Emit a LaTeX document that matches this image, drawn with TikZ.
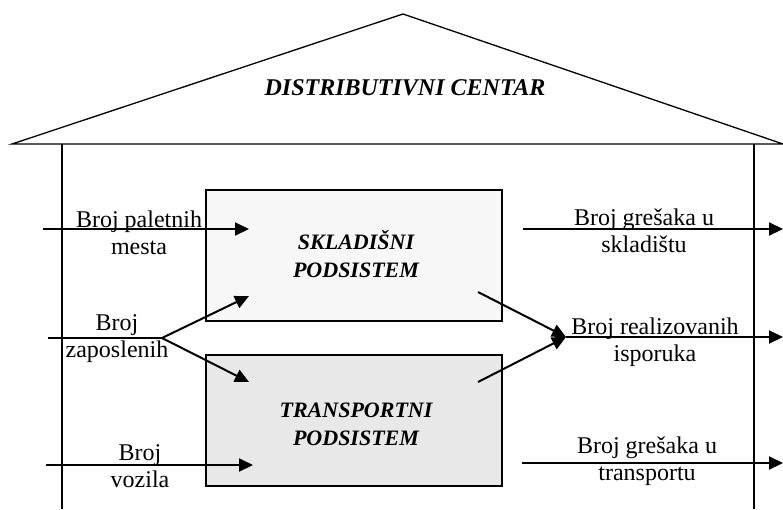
\documentclass[tikz,border=0pt]{standalone}
\usepackage{fontspec}
\setmainfont{Liberation Serif}
\usetikzlibrary{arrows.meta}
\begin{document}
\begin{tikzpicture}[x=1pt,y=-1pt,
  line/.style={line width=1.3pt},
  arr/.style={line width=2pt,-{Triangle[length=14pt,width=13pt]}},
  lbl/.style={align=center,font=\fontsize{24}{27}\selectfont,inner sep=0pt},
  sub/.style={draw,line width=1.5pt,minimum width=296pt,minimum height=131pt,inner sep=0pt},
  subtxt/.style={align=center,inner sep=0pt,font=\fontsize{22}{28}\selectfont\bfseries\itshape}]
\useasboundingbox (0,0) rectangle (783,509);
% roof and walls
\coordinate (apex) at (403,14);
\coordinate (rl) at (12,144);
\coordinate (rr) at (783,144);
\draw[line] (rl) -- (apex) -- (rr) -- cycle;
\node[anchor=base,inner sep=0pt,font=\fontsize{24}{28}\selectfont\bfseries\itshape] (title) at (405,95) {DISTRIBUTIVNI CENTAR};
\coordinate (lwt) at (62,144); \coordinate (lwb) at (62,509);
\coordinate (rwt) at (754,144); \coordinate (rwb) at (754,509);
\draw[line] (lwt) -- (lwb);
\draw[line] (rwt) -- (rwb);
% subsystems
\node[sub,fill=black!3] (skl) at (354,255.5) {};
\node[sub,fill=black!9] (tr) at (354,420.5) {};
\node[subtxt] (sklt) at (356,254) {SKLADIŠNI\\PODSISTEM};
\node[subtxt] (trt) at (356,424.5) {TRANSPORTNI\\PODSISTEM};
% inputs
\coordinate (in1s) at (43,229); \coordinate (in1e) at (249,229);
\draw[arr] (in1s) -- (in1e);
\node[lbl] (l1) at (139,233) {Broj paletnih\\mesta};
\coordinate (in2s) at (48,338); \coordinate (fork) at (162,338);
\coordinate (in2a) at (249,296); \coordinate (in2b) at (249,382);
\draw[line] (in2s) -- (fork);
\draw[arr] (fork) -- (in2a);
\draw[arr] (fork) -- (in2b);
\node[lbl] (l2) at (117,339) {Broj\\zaposlenih};
\coordinate (in3s) at (46,465); \coordinate (in3e) at (253,465);
\draw[arr] (in3s) -- (in3e);
\node[lbl] (l3) at (140,466) {Broj\\vozila};
% outputs
\coordinate (o1s) at (523,229); \coordinate (o1e) at (783,229);
\draw[arr] (o1s) -- (o1e);
\node[lbl] (r1) at (644,231) {Broj grešaka u\\skladištu};
\coordinate (o2a) at (478,292); \coordinate (o2b) at (478,382);
\coordinate (merge) at (566,337); \coordinate (o2e) at (783,337);
\draw[arr] (o2a) -- (merge);
\draw[arr] (o2b) -- (merge);
\draw[arr] (merge) -- (o2e);
\node[lbl] (r2) at (655,342) {Broj realizovanih\\isporuka};
\coordinate (o3s) at (522,463); \coordinate (o3e) at (783,463);
\draw[arr] (o3s) -- (o3e);
\node[lbl] (r3) at (647,461) {Broj grešaka u\\transportu};
\end{tikzpicture}
\end{document}
